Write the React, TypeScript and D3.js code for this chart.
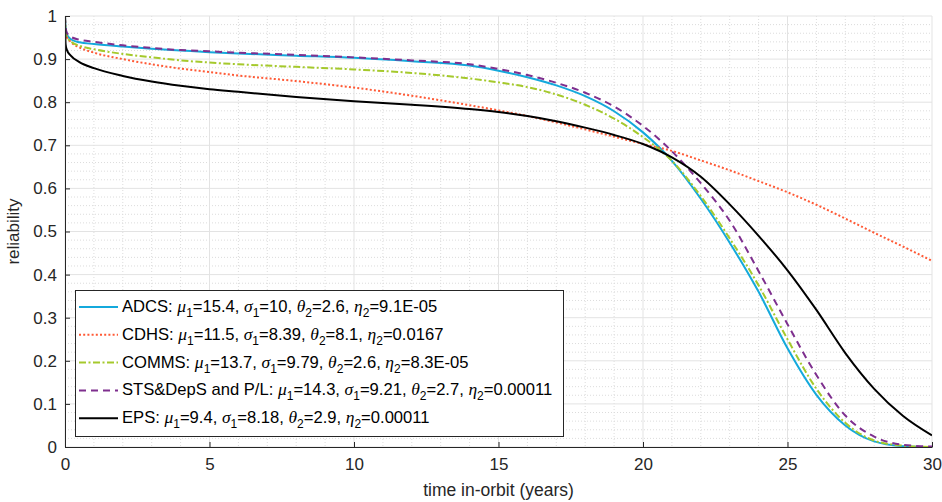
import React, { useEffect, useRef } from 'react';
import * as d3 from 'd3';

// time in orbit (years), shared by all series
const years = [0, 0.02, 0.06, 0.2, 0.5, 1, 2, 3, 4, 5, 6, 8, 10, 12, 14, 15, 16, 17, 18, 19, 20, 21, 22, 23, 24, 25, 26, 27, 28, 29, 30];

// reliability
const adcs = [1, 0.972, 0.958, 0.946, 0.939, 0.935, 0.929, 0.924, 0.92, 0.916, 0.913, 0.908, 0.903, 0.895, 0.885, 0.873, 0.858, 0.839, 0.814, 0.779, 0.73, 0.664, 0.576, 0.474, 0.36, 0.229, 0.121, 0.05, 0.013, 0.002, 0];
const cdhs = [1, 0.962, 0.952, 0.94, 0.927, 0.915, 0.9, 0.888, 0.878, 0.87, 0.862, 0.849, 0.834, 0.815, 0.793, 0.781, 0.768, 0.753, 0.737, 0.72, 0.703, 0.687, 0.665, 0.642, 0.617, 0.591, 0.562, 0.53, 0.497, 0.465, 0.432];
const comms = [1, 0.965, 0.953, 0.941, 0.931, 0.923, 0.912, 0.904, 0.897, 0.892, 0.888, 0.882, 0.876, 0.868, 0.855, 0.846, 0.835, 0.818, 0.794, 0.762, 0.719, 0.664, 0.582, 0.484, 0.375, 0.25, 0.135, 0.056, 0.015, 0.003, 0];
const stsPl = [1, 0.974, 0.962, 0.952, 0.945, 0.94, 0.932, 0.926, 0.921, 0.918, 0.915, 0.91, 0.904, 0.897, 0.888, 0.877, 0.863, 0.845, 0.822, 0.79, 0.745, 0.686, 0.612, 0.525, 0.408, 0.285, 0.167, 0.073, 0.024, 0.005, 0.001];
const eps = [1, 0.935, 0.922, 0.908, 0.893, 0.879, 0.861, 0.848, 0.838, 0.83, 0.824, 0.812, 0.802, 0.794, 0.784, 0.777, 0.768, 0.756, 0.741, 0.724, 0.703, 0.672, 0.627, 0.563, 0.49, 0.41, 0.318, 0.218, 0.135, 0.072, 0.027];

// legend fields
const names = ['ADCS', 'CDHS', 'COMMS', 'STS&DepS and P/L', 'EPS'];
const mu1 = ['15.4', '11.5', '13.7', '14.3', '9.4'];
const sigma1 = ['10', '8.39', '9.79', '9.21', '8.18'];
const theta2 = ['2.6', '8.1', '2.6', '2.7', '2.9'];
const eta2 = ['9.1E-05', '0.0167', '8.3E-05', '0.00011', '0.00011'];

const xTicks = [0, 5, 10, 15, 20, 25, 30];
const yTicks = [0, 0.1, 0.2, 0.3, 0.4, 0.5, 0.6, 0.7, 0.8, 0.9, 1];

const seriesValues = [adcs, cdhs, comms, stsPl, eps];
const colors = ['#14a9dc', '#ff5a36', '#a5c92c', '#7e2f8e', '#000000'];
const dashes = [null, '2,2.2', '7,2.5,2,2.5', '7,5', null];

const FONT = '"Liberation Sans", Arial, Helvetica, sans-serif';

const App = () => {
    const svgRef = useRef<SVGSVGElement>(null);

    useEffect(() => {
        const W = 942, H = 502;
        const left = 65, right = 932, top = 16, bottom = 447;

        const svg = d3.select(svgRef.current);
        svg.selectAll('*').remove();
        svg.attr('width', W).attr('height', H);

        const x = d3.scaleLinear().domain([0, 30]).range([left, right]);
        const y = d3.scaleLinear().domain([0, 1]).range([bottom, top]);

        // minor grid (dotted)
        const minorX = d3.range(1, 30).filter((v) => v % 5 !== 0);
        const minorY = d3.range(1, 50).map((v) => v * 0.02).filter((_, i) => (i + 1) % 5 !== 0);
        const grid = svg.append('g');
        grid.selectAll('.mx').data(minorX).enter().append('line')
            .attr('x1', (d) => x(d)).attr('x2', (d) => x(d))
            .attr('y1', top).attr('y2', bottom)
            .attr('stroke', '#dcdcdc').attr('stroke-dasharray', '1,2').attr('stroke-width', 1);
        grid.selectAll('.my').data(minorY).enter().append('line')
            .attr('x1', left).attr('x2', right)
            .attr('y1', (d) => y(d)).attr('y2', (d) => y(d))
            .attr('stroke', '#dcdcdc').attr('stroke-dasharray', '1,2').attr('stroke-width', 1);
        // major grid
        grid.selectAll('.gx').data(xTicks).enter().append('line')
            .attr('x1', (d) => x(d)).attr('x2', (d) => x(d))
            .attr('y1', top).attr('y2', bottom)
            .attr('stroke', '#e3e3e3').attr('stroke-width', 1);
        grid.selectAll('.gy').data(yTicks).enter().append('line')
            .attr('x1', left).attr('x2', right)
            .attr('y1', (d) => y(d)).attr('y2', (d) => y(d))
            .attr('stroke', '#e3e3e3').attr('stroke-width', 1);

        svg.append('defs').append('clipPath').attr('id', 'plotclip')
            .append('rect').attr('x', left).attr('y', top - 2)
            .attr('width', right - left).attr('height', bottom - top + 2);

        // curves
        const line = d3.line<number>()
            .x((_, i) => x(years[i]))
            .y((d) => y(d))
            .curve(d3.curveMonotoneX);

        svg.append('g').attr('clip-path', 'url(#plotclip)')
            .selectAll('path').data(seriesValues).enter().append('path')
            .attr('d', (d) => line(d))
            .attr('fill', 'none')
            .attr('stroke', (_, i) => colors[i])
            .attr('stroke-width', 2)
            .attr('stroke-dasharray', (_, i) => dashes[i]);

        // axes
        const xAxis = svg.append('g')
            .attr('transform', `translate(0,${bottom})`)
            .call(d3.axisBottom(x).tickValues(xTicks).tickSizeInner(-5).tickSizeOuter(0).tickPadding(11));
        const yAxis = svg.append('g')
            .attr('transform', `translate(${left},0)`)
            .call(d3.axisLeft(y).tickValues(yTicks).tickFormat(d3.format('~g')).tickSizeInner(-5).tickSizeOuter(0).tickPadding(8));
        [xAxis, yAxis].forEach((a) => {
            a.select('.domain').attr('stroke', '#262626').attr('stroke-width', 1);
            a.selectAll('.tick line').attr('stroke', '#262626');
            a.selectAll('text').attr('font-family', FONT).attr('font-size', 17).attr('fill', '#262626');
        });

        svg.append('text')
            .attr('x', (left + right) / 2).attr('y', 496)
            .attr('text-anchor', 'middle')
            .attr('font-family', FONT).attr('font-size', 17.5).attr('fill', '#262626')
            .text('time in-orbit (years)');
        svg.append('text')
            .attr('transform', `translate(19,${(top + bottom) / 2}) rotate(-90)`)
            .attr('text-anchor', 'middle')
            .attr('font-family', FONT).attr('font-size', 17).attr('fill', '#262626')
            .text('reliability');

        // legend
        const lg = svg.append('g');
        lg.append('rect')
            .attr('x', 75.5).attr('y', 290.5).attr('width', 488).attr('height', 146)
            .attr('fill', 'white').attr('stroke', '#262626').attr('stroke-width', 1);

        names.forEach((name, i) => {
            const cy = 307 + i * 27.8;
            lg.append('line')
                .attr('x1', 79).attr('x2', 118).attr('y1', cy).attr('y2', cy)
                .attr('stroke', colors[i]).attr('stroke-width', 2)
                .attr('stroke-dasharray', dashes[i]);
            const t = lg.append('text')
                .attr('x', 122).attr('y', cy + 5)
                .attr('font-family', FONT).attr('font-size', 16.6).attr('fill', '#000');
            const parts: [string, string, string][] = [
                ['\u03bc', '1', '=' + mu1[i] + ', '],
                ['\u03c3', '1', '=' + sigma1[i] + ', '],
                ['\u03b8', '2', '=' + theta2[i] + ', '],
                ['\u03b7', '2', '=' + eta2[i]],
            ];
            t.append('tspan').text(name + ': ');
            parts.forEach(([g, sub, rest]) => {
                t.append('tspan').attr('font-family', '"Liberation Serif", "DejaVu Serif", serif').attr('font-style', 'italic').attr('font-size', 17.5).text(g);
                t.append('tspan').attr('font-size', 12).attr('dy', 5).text(sub);
                t.append('tspan').attr('dy', -5).text(rest);
            });
        });
    }, []);

    return <svg ref={svgRef} style={{ position: 'absolute', left: 0, top: 0 }}></svg>;
};

export default App;
